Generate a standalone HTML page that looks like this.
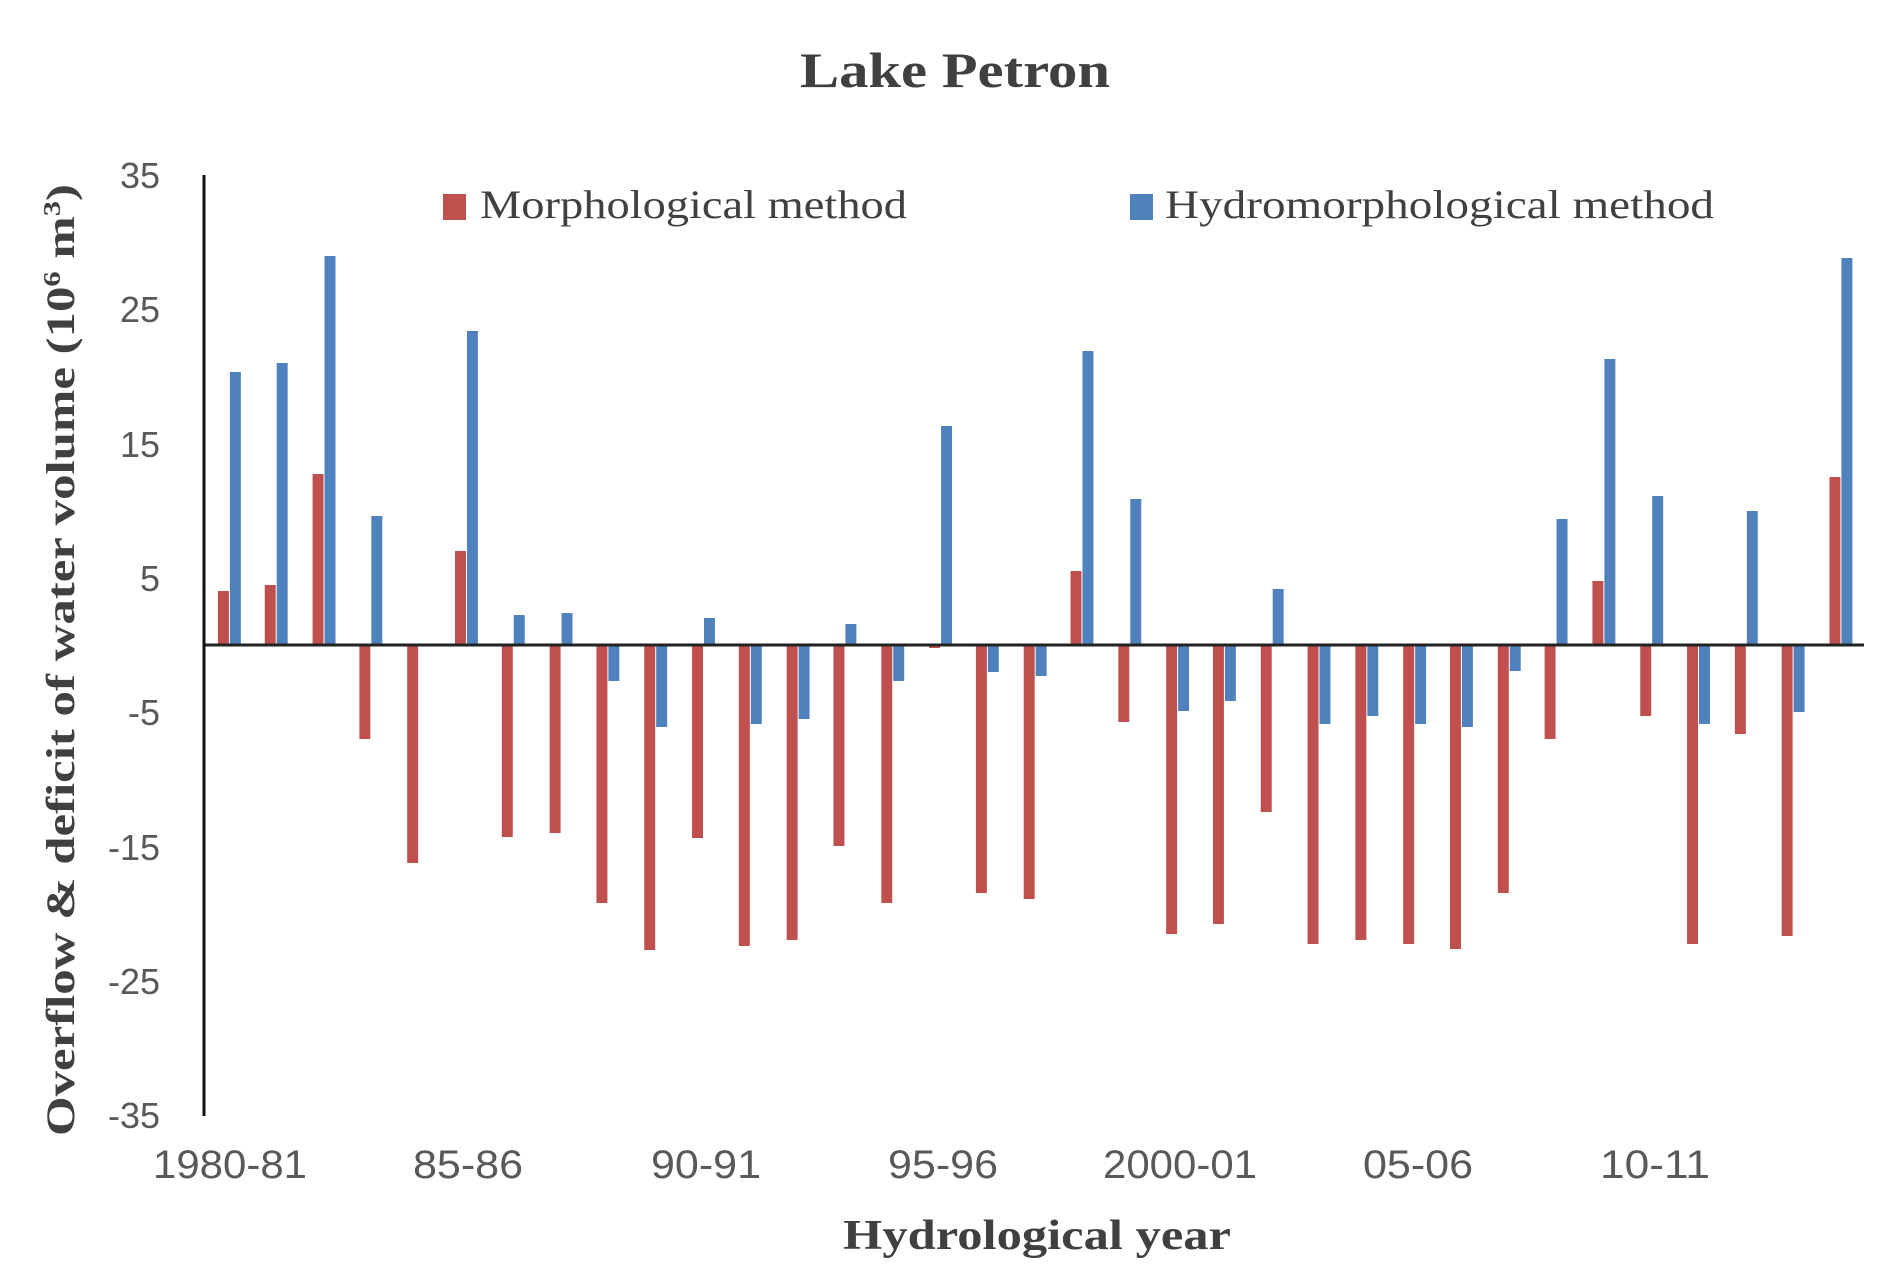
<!DOCTYPE html>
<html><head><meta charset="utf-8"><style>
html,body{margin:0;padding:0;background:#fff;}
svg{display:block;}
</style></head><body>
<svg width="1892" height="1281" viewBox="0 0 1892 1281" xmlns="http://www.w3.org/2000/svg">
<rect width="1892" height="1281" fill="#fff"/>
<text x="955" y="87" text-anchor="middle" font-family="Liberation Serif, serif" font-weight="bold" font-size="50" fill="#404040" textLength="310" lengthAdjust="spacingAndGlyphs">Lake Petron</text>
<rect x="443" y="194" width="23" height="26" fill="#c0504d"/>
<text x="480" y="218" font-family="Liberation Serif, serif" font-size="40" fill="#404040" textLength="427" lengthAdjust="spacingAndGlyphs">Morphological method</text>
<rect x="1130" y="194" width="23" height="26" fill="#4f81bd"/>
<text x="1165" y="218" font-family="Liberation Serif, serif" font-size="40" fill="#404040" textLength="549" lengthAdjust="spacingAndGlyphs">Hydromorphological method</text>
<g font-family="Liberation Sans, sans-serif" font-size="36" fill="#595959" text-anchor="end">
<text x="160" y="188">35</text>
<text x="160" y="322">25</text>
<text x="160" y="457">15</text>
<text x="160" y="591">5</text>
<text x="160" y="725">-5</text>
<text x="160" y="860">-15</text>
<text x="160" y="994">-25</text>
<text x="160" y="1128">-35</text>
</g>
<text transform="translate(74,660) rotate(-90)" text-anchor="middle" font-family="Liberation Serif, serif" font-weight="bold" font-size="40" fill="#404040" textLength="952" lengthAdjust="spacingAndGlyphs">Overflow &amp; deficit of water volume (10<tspan font-size="24" dy="-14">6</tspan><tspan dy="14"> m</tspan><tspan font-size="24" dy="-14">3</tspan><tspan dy="14">)</tspan></text>
<g transform="translate(205,0) scale(0.996,1) translate(-205,0)">
<rect x="218" y="591" width="11" height="54" fill="#c0504d"/><rect x="230" y="372" width="11" height="273" fill="#4f81bd"/>
<rect x="265" y="585" width="11" height="60" fill="#c0504d"/><rect x="277" y="363" width="11" height="282" fill="#4f81bd"/>
<rect x="313" y="474" width="11" height="171" fill="#c0504d"/><rect x="325" y="256" width="11" height="389" fill="#4f81bd"/>
<rect x="360" y="645" width="11" height="94" fill="#c0504d"/><rect x="372" y="516" width="11" height="129" fill="#4f81bd"/>
<rect x="408" y="645" width="11" height="218" fill="#c0504d"/>
<rect x="456" y="551" width="11" height="94" fill="#c0504d"/><rect x="468" y="331" width="11" height="314" fill="#4f81bd"/>
<rect x="503" y="645" width="11" height="192" fill="#c0504d"/><rect x="515" y="615" width="11" height="30" fill="#4f81bd"/>
<rect x="551" y="645" width="11" height="188" fill="#c0504d"/><rect x="563" y="613" width="11" height="32" fill="#4f81bd"/>
<rect x="598" y="645" width="11" height="258" fill="#c0504d"/><rect x="610" y="645" width="11" height="36" fill="#4f81bd"/>
<rect x="646" y="645" width="11" height="305" fill="#c0504d"/><rect x="658" y="645" width="11" height="82" fill="#4f81bd"/>
<rect x="694" y="645" width="11" height="193" fill="#c0504d"/><rect x="706" y="618" width="11" height="27" fill="#4f81bd"/>
<rect x="741" y="645" width="11" height="301" fill="#c0504d"/><rect x="753" y="645" width="11" height="79" fill="#4f81bd"/>
<rect x="789" y="645" width="11" height="295" fill="#c0504d"/><rect x="801" y="645" width="11" height="74" fill="#4f81bd"/>
<rect x="836" y="645" width="11" height="201" fill="#c0504d"/><rect x="848" y="624" width="11" height="21" fill="#4f81bd"/>
<rect x="884" y="645" width="11" height="258" fill="#c0504d"/><rect x="896" y="645" width="11" height="36" fill="#4f81bd"/>
<rect x="932" y="645" width="11" height="3" fill="#c0504d"/><rect x="944" y="426" width="11" height="219" fill="#4f81bd"/>
<rect x="979" y="645" width="11" height="248" fill="#c0504d"/><rect x="991" y="645" width="11" height="27" fill="#4f81bd"/>
<rect x="1027" y="645" width="11" height="254" fill="#c0504d"/><rect x="1039" y="645" width="11" height="31" fill="#4f81bd"/>
<rect x="1074" y="571" width="11" height="74" fill="#c0504d"/><rect x="1086" y="351" width="11" height="294" fill="#4f81bd"/>
<rect x="1122" y="645" width="11" height="77" fill="#c0504d"/><rect x="1134" y="499" width="11" height="146" fill="#4f81bd"/>
<rect x="1170" y="645" width="11" height="289" fill="#c0504d"/><rect x="1182" y="645" width="11" height="66" fill="#4f81bd"/>
<rect x="1217" y="645" width="11" height="279" fill="#c0504d"/><rect x="1229" y="645" width="11" height="56" fill="#4f81bd"/>
<rect x="1265" y="645" width="11" height="167" fill="#c0504d"/><rect x="1277" y="589" width="11" height="56" fill="#4f81bd"/>
<rect x="1312" y="645" width="11" height="299" fill="#c0504d"/><rect x="1324" y="645" width="11" height="79" fill="#4f81bd"/>
<rect x="1360" y="645" width="11" height="295" fill="#c0504d"/><rect x="1372" y="645" width="11" height="71" fill="#4f81bd"/>
<rect x="1408" y="645" width="11" height="299" fill="#c0504d"/><rect x="1420" y="645" width="11" height="79" fill="#4f81bd"/>
<rect x="1455" y="645" width="11" height="304" fill="#c0504d"/><rect x="1467" y="645" width="11" height="82" fill="#4f81bd"/>
<rect x="1503" y="645" width="11" height="248" fill="#c0504d"/><rect x="1515" y="645" width="11" height="26" fill="#4f81bd"/>
<rect x="1550" y="645" width="11" height="94" fill="#c0504d"/><rect x="1562" y="519" width="11" height="126" fill="#4f81bd"/>
<rect x="1598" y="581" width="11" height="64" fill="#c0504d"/><rect x="1610" y="359" width="11" height="286" fill="#4f81bd"/>
<rect x="1646" y="645" width="11" height="71" fill="#c0504d"/><rect x="1658" y="496" width="11" height="149" fill="#4f81bd"/>
<rect x="1693" y="645" width="11" height="299" fill="#c0504d"/><rect x="1705" y="645" width="11" height="79" fill="#4f81bd"/>
<rect x="1741" y="645" width="11" height="89" fill="#c0504d"/><rect x="1753" y="511" width="11" height="134" fill="#4f81bd"/>
<rect x="1788" y="645" width="11" height="291" fill="#c0504d"/><rect x="1800" y="645" width="11" height="67" fill="#4f81bd"/>
<rect x="1836" y="477" width="11" height="168" fill="#c0504d"/><rect x="1848" y="258" width="11" height="387" fill="#4f81bd"/>
</g>
<line x1="205" y1="645" x2="1864" y2="645" stroke="#222" stroke-width="3"/>
<line x1="204" y1="175" x2="204" y2="1116" stroke="#111" stroke-width="3"/>
<g font-family="Liberation Sans, sans-serif" font-size="40" fill="#595959" text-anchor="middle">
<text x="230" y="1178" textLength="154" lengthAdjust="spacingAndGlyphs">1980-81</text>
<text x="468" y="1178" textLength="110" lengthAdjust="spacingAndGlyphs">85-86</text>
<text x="706" y="1178" textLength="110" lengthAdjust="spacingAndGlyphs">90-91</text>
<text x="943" y="1178" textLength="110" lengthAdjust="spacingAndGlyphs">95-96</text>
<text x="1180" y="1178" textLength="154" lengthAdjust="spacingAndGlyphs">2000-01</text>
<text x="1418" y="1178" textLength="110" lengthAdjust="spacingAndGlyphs">05-06</text>
<text x="1655" y="1178" textLength="110" lengthAdjust="spacingAndGlyphs">10-11</text>
</g>
<text x="1037" y="1249" text-anchor="middle" font-family="Liberation Serif, serif" font-weight="bold" font-size="42" fill="#404040" textLength="388" lengthAdjust="spacingAndGlyphs">Hydrological year</text>
</svg>
</body></html>
